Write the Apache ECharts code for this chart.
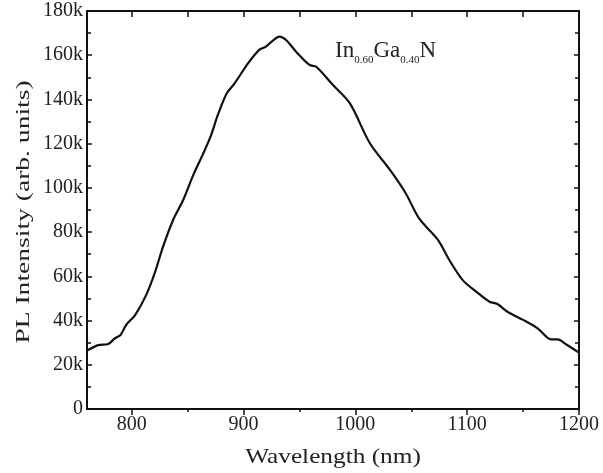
<!DOCTYPE html>
<html>
<head>
<meta charset="UTF-8">
<title>PL spectrum</title>
<script src="https://cdn.jsdelivr.net/npm/echarts@6/dist/echarts.min.js"></script>
<style>
	html, body { margin: 0; padding: 0; background: #fff; }
	#main { width: 603px; height: 473px; }
</style>
</head>
<body>
<div id="main"></div>
<script>
	// wavelength (nm) and PL intensity (k counts)
	const wavelength = [760, 770, 779, 785, 790, 795, 803, 813, 821, 828, 837, 846, 855, 864, 871, 877, 885, 892,
		904, 914, 920, 926, 932, 938, 947, 959, 965, 980, 995, 1013, 1031, 1045, 1057, 1074, 1084,
		1096, 1108, 1120, 1127, 1136, 1150, 1163, 1175, 1181, 1188, 1200];
	const intensity = [26.4, 28.9, 29.4, 32.0, 33.5, 38.0, 42.5, 51.6, 62.1, 73.4, 85.5, 94.5, 105.8, 115.6, 123.9, 133.0, 142.8, 147.3,
		156.3, 162.4, 163.9, 166.5, 168.4, 166.9, 161.6, 155.6, 154.8, 146.5, 138.3, 120.2, 108.1, 97.6, 86.2, 76.4, 67.4,
		58.3, 53.1, 48.5, 47.5, 44.0, 40.3, 36.5, 31.5, 31.5, 29.4, 25.5];
	const xLabels = [800, 900, 1000, 1100, 1200];
	const xMinor = [850, 950, 1050, 1150];
	const xTopTicks = [800, 850, 900, 950, 1000, 1050, 1100, 1150];

	const font = 'Liberation Serif';
	const ink = '#111';
	const txt = '#222';

	let chart = echarts.init(document.getElementById('main'));
	let points = wavelength.map((w, i) => [w, intensity[i] * 1000]);

	let option = {
		animation: false,
		grid: { left: 87, right: 24, top: 11, bottom: 64, outerBoundsMode: 'none' },
		xAxis: [{
			type: 'value',
			min: 760, max: 1200,
			axisLine: { lineStyle: { color: ink, width: 2 } },
			axisTick: { length: 6, customValues: xLabels, lineStyle: { color: ink, width: 1.5 } },
			axisLabel: { customValues: xLabels, fontFamily: font, fontSize: 20, color: txt, margin: 6,
				formatter: v => String(v) },
			splitLine: { show: false }
		}, {
			// short minor ticks under the bottom axis
			type: 'value',
			position: 'bottom',
			offset: 0,
			min: 760, max: 1200,
			axisLine: { show: false },
			axisTick: { length: 3, customValues: xMinor, lineStyle: { color: ink, width: 1.5 } },
			axisLabel: { show: false },
			splitLine: { show: false }
		}, {
			type: 'value',
			position: 'top',
			min: 760, max: 1200,
			axisLine: { lineStyle: { color: ink, width: 2 } },
			axisTick: { inside: true, length: 6, customValues: xTopTicks, lineStyle: { color: ink, width: 1.5 } },
			axisLabel: { show: false },
			splitLine: { show: false }
		}],
		yAxis: [{
			type: 'value',
			min: 0, max: 180000, interval: 20000,
			axisLine: { show: true, lineStyle: { color: ink, width: 2 } },
			axisTick: { inside: true, length: 5, lineStyle: { color: ink, width: 1.5 } },
			minorTick: { show: true, splitNumber: 2, length: 4, lineStyle: { color: ink, width: 1.5 } },
			axisLabel: {
				fontFamily: font, fontSize: 20, color: txt, margin: 4,
				formatter: v => v === 0 ? '0' : (v / 1000) + 'k'
			},
			splitLine: { show: false }
		}, {
			type: 'value',
			position: 'right',
			min: 0, max: 180000, interval: 20000,
			axisLine: { show: true, lineStyle: { color: ink, width: 2 } },
			axisTick: { inside: true, length: 5, lineStyle: { color: ink, width: 1.5 } },
			minorTick: { show: true, splitNumber: 2, length: 4, lineStyle: { color: ink, width: 1.5 } },
			axisLabel: { show: false },
			splitLine: { show: false }
		}],
		graphic: [{
			type: 'text',
			left: 335, top: 36,
			style: {
				text: 'In{s|0.60}Ga{s|0.40}N',
				fontFamily: font, fontSize: 23, fill: txt, lineHeight: 30,
				rich: {
					s: { fontFamily: font, fontSize: 11, fill: txt, verticalAlign: 'bottom' }
				}
			}
		}, {
			// axis titles, stretched along the text like the original
			type: 'text',
			x: 333, y: 457,
			style: {
				text: 'Wavelength (nm)',
				fontFamily: font, fontSize: 22, fill: txt,
				align: 'center', verticalAlign: 'middle'
			},
			scaleX: 1.15
		}, {
			type: 'text',
			x: 24, y: 212,
			rotation: Math.PI / 2,
			style: {
				text: 'PL Intensity (arb. units)',
				fontFamily: font, fontSize: 19, fill: txt,
				align: 'center', verticalAlign: 'middle'
			},
			scaleX: 1.45
		}],
		series: [{
			type: 'line',
			data: points,
			showSymbol: false,
			smooth: 0.3,
			clip: true,
			lineStyle: { color: ink, width: 2.2 }
		}]
	};

	chart.setOption(option);
</script>
</body>
</html>
